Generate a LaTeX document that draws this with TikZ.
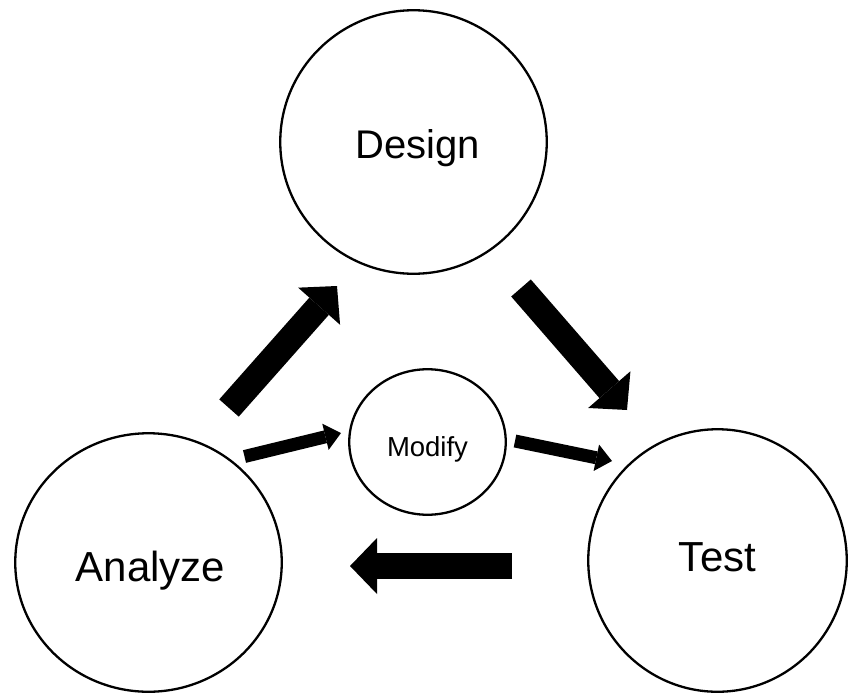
\documentclass[tikz,border=0pt]{standalone}
\usepackage{fontspec}
\setmainfont{Liberation Sans}
\usetikzlibrary{arrows.meta,shapes.geometric}

\tikzset{
  bubble/.style={draw, ellipse, line width=2.3pt, inner sep=0pt, text depth=0pt},
  bigarrow/.style={line width=26pt,
    -{Triangle[length=27pt,width=56pt,line width=0pt]}},
  smallarrow/.style={line width=13pt,
    -{Triangle[length=16pt,width=27pt,line width=0pt]}},
  bigtext/.style={font=\fontsize{42}{50}\selectfont},
  midtext/.style={font=\fontsize{40}{48}\selectfont},
  smalltext/.style={font=\fontsize{27.5}{33}\selectfont}
}

\begin{document}
\begin{tikzpicture}[x=1pt, y=-1pt]
  \useasboundingbox (0,0) rectangle (848,696);

  % the four stages
  \node[bubble, midtext, minimum width=266.5pt, minimum height=263.5pt,
        text height=32pt] (design) at (413.5,142) {\hspace*{9pt}Design};
  \node[bubble, bigtext, minimum width=266.5pt, minimum height=258.5pt,
        text height=38pt] (analyze) at (148.5,562.5) {\hspace*{4pt}Analyze};
  \node[bubble, bigtext, minimum width=258.5pt, minimum height=262.5pt,
        text height=22.4pt] (test) at (717.5,560.5) {Test};
  \node[bubble, smalltext, minimum width=156.5pt, minimum height=145.5pt,
        text height=29.4pt] (modify) at (427.5,442) {Modify};

  % ends of the block arrows
  \coordinate (ad-start) at (229,408);
  \coordinate (ad-end)   at (337,286);
  \coordinate (dt-start) at (521,288);
  \coordinate (dt-end)   at (627,410);
  \coordinate (ta-start) at (512,566);
  \coordinate (ta-end)   at (350,566);
  \coordinate (am-start) at (244.5,456.5);
  \coordinate (am-end)   at (341,433);
  \coordinate (mt-start) at (515,441);
  \coordinate (mt-end)   at (612,461);

  % main cycle
  \draw[bigarrow] (ad-start) -- (ad-end);
  \draw[bigarrow] (dt-start) -- (dt-end);
  \draw[bigarrow] (ta-start) -- (ta-end);

  % side path through Modify
  \draw[smallarrow] (am-start) -- (am-end);
  \draw[smallarrow] (mt-start) -- (mt-end);
\end{tikzpicture}
\end{document}
